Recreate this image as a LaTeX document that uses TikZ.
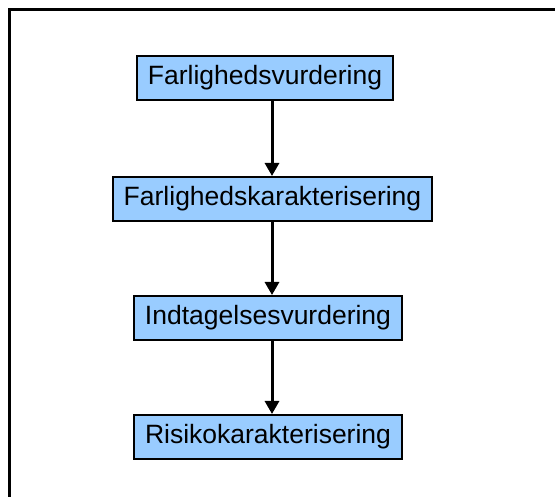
\documentclass[tikz,border=0pt]{standalone}
\usepackage{fontspec}
\setmainfont{Liberation Sans}
\usetikzlibrary{arrows.meta}
\definecolor{boxblue}{RGB}{153,204,255}
\tikzset{
  stepbox/.style={draw=black, line width=2pt, fill=boxblue, inner sep=0pt,
    minimum height=44pt, font=\fontsize{26.5}{30}\selectfont},
  flowarrow/.style={line width=3pt, -{Triangle[length=13pt,width=14pt]}},
}
\begin{document}
\begin{tikzpicture}[x=1pt,y=-1pt]
  \useasboundingbox (0,0) rectangle (555,497);
  \begin{scope}
    \clip (0,0) rectangle (555,497);
    \draw[line width=3pt] (9.5,10) rectangle (570,520);
  \end{scope}

  \node[stepbox, minimum width=256pt] (b1) at (265,78) {Farlighedsvurdering};
  \node[stepbox, minimum width=319pt] (b2) at (272.5,199) {Farlighedskarakterisering};
  \node[stepbox, minimum width=268pt] (b3) at (268,318) {Indtagelsesvurdering};
  \node[stepbox, minimum width=268pt] (b4) at (268,437) {Risikokarakterisering};

  \coordinate (ax) at (272,0);
  \draw[flowarrow] (b1.south -| ax) -- (b2.north -| ax);
  \draw[flowarrow] (b2.south -| ax) -- (b3.north -| ax);
  \draw[flowarrow] (b3.south -| ax) -- (b4.north -| ax);
\end{tikzpicture}
\end{document}
